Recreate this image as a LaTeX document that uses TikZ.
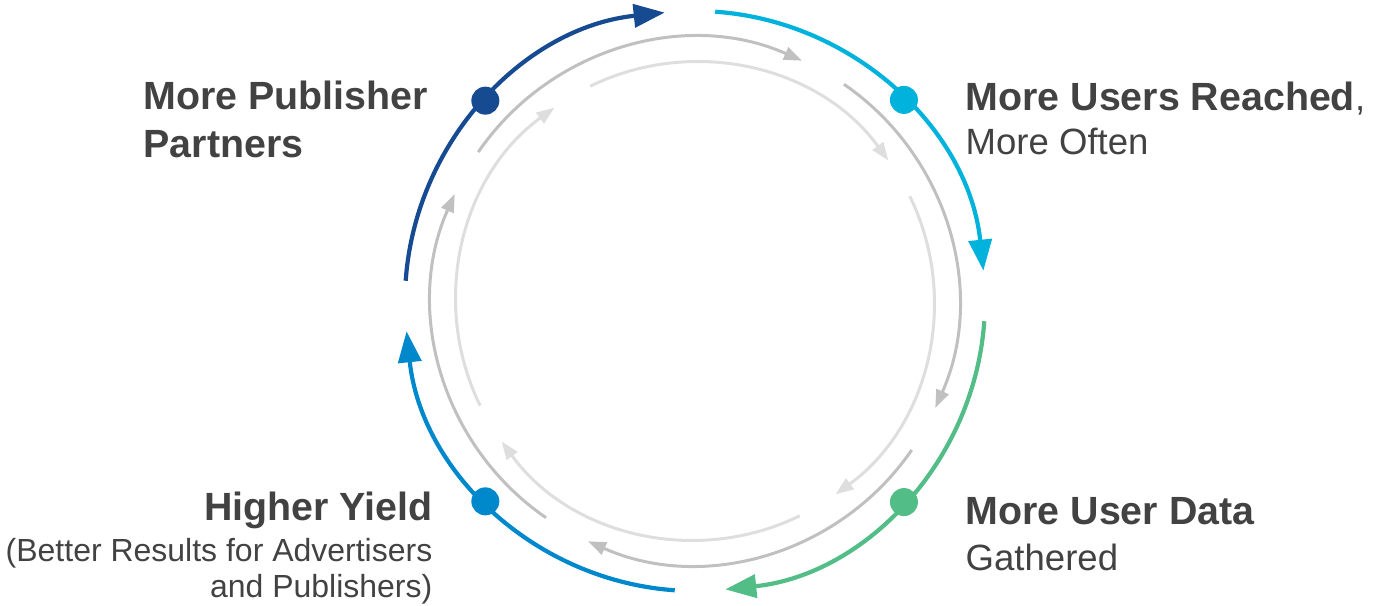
\documentclass[tikz,border=0pt]{standalone}
\usepackage{fontspec}
\setmainfont{Liberation Sans}
\usetikzlibrary{arrows.meta}
\definecolor{pubblue}{RGB}{22,74,145}
\definecolor{reachcyan}{RGB}{0,178,220}
\definecolor{datagreen}{RGB}{82,189,134}
\definecolor{yieldblue}{RGB}{0,136,204}
\definecolor{ringgray}{RGB}{192,192,192}
\definecolor{ringlight}{RGB}{222,222,222}
\definecolor{textgray}{RGB}{66,66,66}

\begin{document}
\begin{tikzpicture}[x=0.1mm, y=0.1mm,
    outer/.style={line width=0.42mm, -{Triangle[length=3.1mm, width=2.3mm]}},
    inner/.style={line width=0.3mm, -{Triangle[length=1.8mm, width=1.3mm]}},
    dot/.style={circle, inner sep=0pt, minimum size=2.8mm},
    label/.style={text=textgray, inner sep=0pt},
    bold/.style={label, font=\fontsize{11.2}{13.7}\selectfont\bfseries}]
    \useasboundingbox (-695,-305) rectangle (680,301);
    \foreach \a in {116,26,-64,-154}
        {\draw[inner, ringlight] (\a:239) arc[start angle=\a, end angle=\a-80, radius=239];}
    \foreach \a in {145.5,55.5,-34.5,-124.5}
        {\draw[inner, ringgray] (\a:263) arc[start angle=\a, end angle=\a-79.5, radius=263];}
    \foreach \col/\a in {pubblue/176, reachcyan/86, datagreen/-4, yieldblue/-94}
        {\draw[outer, \col] (\a:290) arc[start angle=\a, end angle=\a-80, radius=290];}
    \node[dot, fill=pubblue] (pubdot) at (136.3:290) {};
    \node[dot, fill=reachcyan] (reachdot) at (43.9:290) {};
    \node[dot, fill=datagreen] (datadot) at (-43.9:290) {};
    \node[dot, fill=yieldblue] (yielddot) at (-136.3:290) {};
    \node[bold, anchor=base west, align=left] (pubtext) at (-552,143) {More Publisher\\Partners};
    \node[label, anchor=base west, align=left, font=\fontsize{10.4}{12.8}\selectfont] (reachtext) at (270,146)
        {{\fontsize{11.2}{12.8}\selectfont\bfseries More Users Reached},\\More Often};
    \node[label, anchor=base west, align=left, font=\fontsize{10.4}{13.1}\selectfont] (datatext) at (270,-270)
        {{\fontsize{11.2}{13.1}\selectfont\bfseries More User Data}\\Gathered};
    \node[bold, anchor=base east] (yieldtext) at (-262,-220) {Higher Yield};
    \node[label, anchor=base east, align=right, font=\fontsize{9.1}{10.5}\selectfont] (yieldsub) at (-262,-297)
        {(Better Results for Advertisers\\and Publishers)};
\end{tikzpicture}
\end{document}
